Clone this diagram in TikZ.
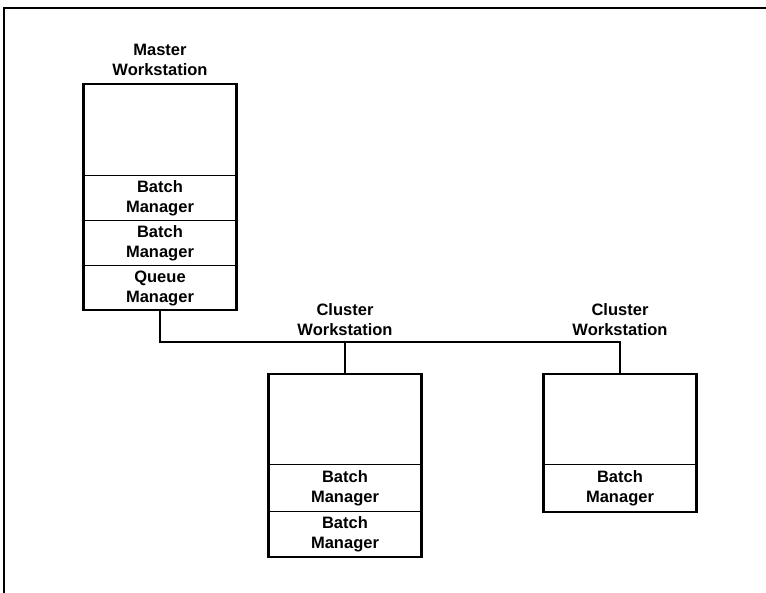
\documentclass[tikz,border=0pt]{standalone}
\usepackage{fontspec}
\setmainfont{Liberation Sans}
\usetikzlibrary{positioning}
\tikzset{
  slot/.style={draw, line width=1pt, minimum width=153pt, minimum height=45pt,
    inner sep=0pt, outer sep=0pt, align=center,
    font=\fontsize{16.5}{20}\selectfont\bfseries},
  blank/.style={slot, minimum height=92pt},
  caption/.style={align=center, font=\fontsize{16.5}{20}\selectfont\bfseries},
  wire/.style={line width=1.1pt},
  shell/.style={line width=2.6pt},
}
\begin{document}
\begin{tikzpicture}[x=1pt,y=-1pt]
        \useasboundingbox (0,0) rectangle (766,593);
        \coordinate (corner) at (4,8);
        \coordinate (edgeR) at (766,8);
        \coordinate (edgeB) at (4,593);
        \draw[line width=1.6pt] (edgeB) -- (corner) -- (edgeR);

        \node[blank, anchor=north] (m0) at (160,84) {};
        \node[slot, below=0pt of m0] (m1) {Batch\\Manager};
        \node[slot, below=0pt of m1] (m2) {Batch\\Manager};
        \node[slot, below=0pt of m2, minimum height=44pt] (m3) {Queue\\Manager};
        \draw[shell] (m0.north west) rectangle (m3.south east);
        \node[caption, above=5pt of m0] (mlab) {Master\\Workstation};

        \node[blank, minimum height=91pt, anchor=north] (c10) at (345,374) {};
        \node[slot, minimum height=46pt, below=0pt of c10] (c11) {Batch\\Manager};
        \node[slot, minimum height=46pt, below=0pt of c11] (c12) {Batch\\Manager};
        \draw[shell] (c10.north west) rectangle (c12.south east);

        \node[blank, minimum height=91pt, anchor=north] (c20) at (620,374) {};
        \node[slot, minimum height=47pt, below=0pt of c20] (c21) {Batch\\Manager};
        \draw[shell] (c20.north west) rectangle (c21.south east);

        \coordinate (bus) at (620,342);
        \coordinate (tap1) at (c10.north |- bus);
        \draw[wire] (m3.south) |- (bus) -- (c20.north);
        \draw[wire] (tap1) -- (c10.north);
        \node[caption, above=3pt of tap1] (c1lab) {Cluster\\Workstation};
        \node[caption, above=3pt of bus] (c2lab) {Cluster\\Workstation};
      \end{tikzpicture}
\end{document}
